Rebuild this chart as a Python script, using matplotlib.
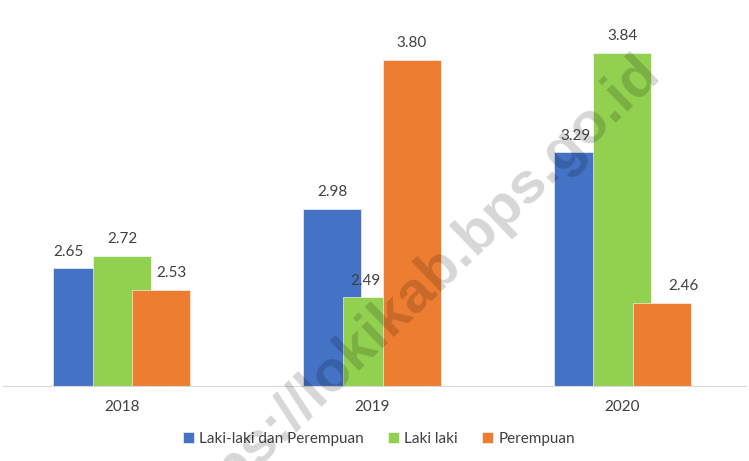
import matplotlib.pyplot as plt
import numpy as np

years = ["2018", "2019", "2020"]
series_names = ["Laki-laki dan Perempuan", "Laki laki", "Perempuan"]
total = [2.65, 2.98, 3.29]
male = [2.72, 2.49, 3.84]
female = [2.53, 3.80, 2.46]
label_dx = [[-10, 0, 7], [0, -5, 0], [-5, 0, 16]]  # geser label (pt)

colors = ["#4472C4", "#92D050", "#ED7D31"]
plt.rcParams["font.family"] = ["Lato", "DejaVu Sans"]

fig = plt.figure(figsize=(7.49, 4.61), dpi=100)
ax = fig.add_axes([0.004, 0.163, 0.992, 0.785])

x = np.arange(len(years))
width = 0.232
step = 0.158
for i, (vals, col, name) in enumerate(zip([total, male, female], colors, series_names)):
    bars = ax.bar(x + (i - 1) * step, vals, width, bottom=0, color=col, label=name,
                  edgecolor="white", linewidth=0.4, zorder=2 + i)
    for j, b in enumerate(bars):
        ax.annotate(f"{vals[j]:.2f}", (b.get_x() + b.get_width() / 2, b.get_height()),
                    xytext=(label_dx[j][i], 12), textcoords="offset points",
                    ha="center", va="center", fontsize=11, color="#404040", zorder=10)

ax.set_ylim(2.0, 4.0)
ax.set_xlim(-0.476, 2.496)
ax.set_yticks([])
ax.set_xticks(x)
ax.set_xticklabels(years, fontsize=11, color="#404040")
ax.tick_params(axis="x", length=0, pad=10)
for s in ["top", "right", "left"]:
    ax.spines[s].set_visible(False)
ax.spines["bottom"].set_color("#d9d9d9")
ax.spines["bottom"].set_zorder(6)

ax.legend(loc="upper center", bbox_to_anchor=(0.506, -0.09), ncol=3, frameon=False,
          fontsize=11, handlelength=0.7, handleheight=0.7, handletextpad=0.35,
          columnspacing=1.6, labelcolor="#404040")

# watermark
ax.text(652 / 749, 1 - 64 / 461, "https://lokikab.bps.go.id", transform=fig.transFigure,
        rotation=44, rotation_mode="anchor", ha="right", va="center", fontsize=42,
        fontweight="bold", family="Liberation Sans", color="black", alpha=0.16,
        zorder=8, clip_on=False)

fig.savefig("out.png", dpi=100)
